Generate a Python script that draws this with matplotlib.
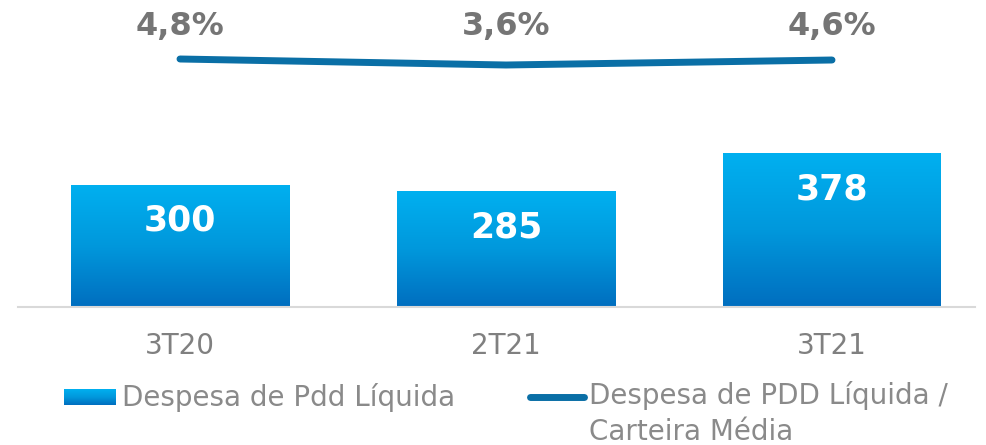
import numpy as np
import matplotlib
matplotlib.use("Agg")
import matplotlib.pyplot as plt
from matplotlib.colors import LinearSegmentedColormap
from matplotlib.transforms import blended_transform_factory
from matplotlib.lines import Line2D

# data
categories = ["3T20", "2T21", "3T21"]
pdd_values = [300, 285, 378]
pdd_ratio = [4.8, 3.6, 4.6]
bar_labels = ["300", "285", "378"]
ratio_labels = ["4,8%", "3,6%", "4,6%"]
legend_bar = "Despesa de Pdd Líquida"
legend_line = "Despesa de PDD Líquida /\nCarteira Média"

W, H = 986, 445
fig = plt.figure(figsize=(W / 100, H / 100), dpi=100)
plt.rcParams['font.family'] = ['DejaVu Sans']

grad = LinearSegmentedColormap.from_list(
    "g", [(0, "#006EBF"), (0.5, "#0098DC"), (1, "#00B0F0")])
gray_txt = "#808080"
line_col = "#0A6FA6"

# main axes: baseline at 307 px from top
ax = fig.add_axes([18 / W, (H - 307) / H, (975 - 18) / W, 307 / H])
x = np.arange(len(categories))
bw = 218 / 326

bars = ax.bar(x, pdd_values, width=bw, color="none")
gimg = np.linspace(0, 1, 256).reshape(-1, 1)
for b in bars:
    x0, y0 = b.get_x(), b.get_y()
    im = ax.imshow(gimg, cmap=grad, origin="lower", aspect="auto",
                   extent=[x0, x0 + b.get_width(), y0, y0 + b.get_height()], zorder=2)
    im.set_clip_path(b)
ax.set_xlim(-162 / 326, 795 / 326)
ax.set_ylim(0, 307 / 0.4067)

for xi, v, lab in zip(x, pdd_values, bar_labels):
    ax.annotate(lab, (xi, v), xytext=(0, -36 * 0.72), textcoords="offset points",
                ha="center", va="center", color="white", fontsize=25,
                fontweight="bold", zorder=5)

for s in ["top", "right", "left"]:
    ax.spines[s].set_visible(False)
ax.spines["bottom"].set_color("#d9d9d9")
ax.spines["bottom"].set_linewidth(1.5)
ax.set_yticks([])
ax.set_xticks(x)
ax.set_xticklabels(categories, fontsize=20, color=gray_txt)
ax.tick_params(axis="x", length=0, pad=18)

# line on secondary axis
ax2 = ax.twinx()
ax2.set_ylim(-44.8, 16.6)
ax2.plot(x, pdd_ratio, color=line_col, lw=5, solid_capstyle="round", zorder=4)
ax2.axis("off")
tr = blended_transform_factory(ax2.transData, fig.transFigure)
for xi, lab in zip(x, ratio_labels):
    ax2.text(xi, (H - 27) / H, lab, transform=tr, ha="center", va="center",
             fontsize=23, fontweight="bold", color="#757575")

# legend (drawn manually)
lax = fig.add_axes([64 / W, (H - 405) / H, 52 / W, 16 / H])
lax.imshow(gimg, cmap=grad, origin="lower", aspect="auto")
lax.axis("off")
fig.text(122 / W, (H - 397) / H, legend_bar, ha="left", va="center",
         fontsize=20, color="#8a8a8a")
fig.add_artist(Line2D([530 / W, 584 / W], [(H - 397) / H] * 2, color=line_col,
                      lw=5, solid_capstyle="round"))
fig.text(589 / W, (H - 381) / H, legend_line, ha="left", va="top",
         fontsize=20, color="#8a8a8a", linespacing=1.35)

fig.savefig("out.png", dpi=100)
